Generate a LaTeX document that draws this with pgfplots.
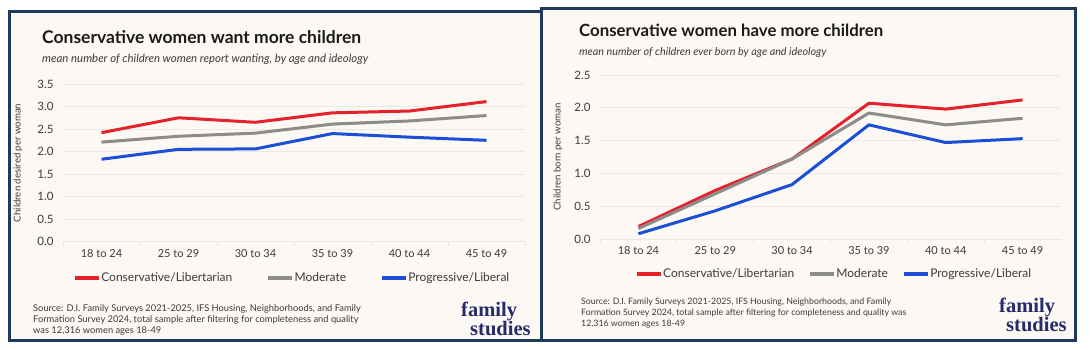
\documentclass[border=0pt]{standalone}
\usepackage{fontspec}
\setmainfont{Lato}
\newfontfamily\logofont{Liberation Serif}
\usepackage{pgfplots}
\pgfplotsset{compat=1.18}
\definecolor{cream}{HTML}{FCF8F3}
\definecolor{navy}{HTML}{1E3A5B}
\definecolor{cred}{HTML}{E3222B}
\definecolor{cgray}{HTML}{8C8C8C}
\definecolor{cblue}{HTML}{1D4ED6}
\definecolor{gridc}{HTML}{ECE7E0}
\definecolor{txt}{HTML}{3C3C3C}
\definecolor{titlec}{HTML}{1A1A1A}
\definecolor{logoc}{HTML}{262B6C}
\pgfplotsset{
  fsstyle/.style={
    scale only axis,
    xmin=-0.5, xmax=5.5, ymin=0,
    axis line style={draw=none},
    ymajorgrids, grid style={gridc, line width=0.8pt},
    xtick={0,...,5},
    xticklabels={18 to 24, 25 to 29, 30 to 34, 35 to 39, 40 to 44, 45 to 49},
    minor xtick={-0.5,0.5,...,5.5},
    xtick pos=bottom, ytick pos=left,
    major tick length=0pt, minor tick length=4pt,
    tick align=outside,
    minor tick style={gridc, line width=0.8pt},
    /pgf/number format/assume math mode=true,
    yticklabel={\pgfmathprintnumber[fixed, fixed zerofill, precision=1]{\tick}},
    yticklabel style={font=\fontsize{11.5}{13}\selectfont, text=txt, xshift=-6pt},
    xticklabel style={font=\fontsize{11}{13}\selectfont, text=txt, yshift=-4pt},
    ylabel style={font=\fontsize{9.6}{11}\selectfont, text=txt, rotate=0, anchor=center},
    legend columns=3,
    legend style={draw=none, fill=none, font=\fontsize{12}{14}\selectfont, text=txt,
      anchor=west, nodes={inner sep=1pt}},
    legend image code/.code={\draw[#1, line width=3.2pt] (0pt,0pt) -- (24pt,0pt);},
    every axis plot/.append style={line width=3pt, no markers, line join=round},
  }
}
\begin{document}
\begin{tikzpicture}[x=1pt, y=1pt]
\fill[white] (0,0) rectangle (1092,350);
% panels
\draw[navy, line width=3pt, fill=cream] (9,9) rectangle (541,338);
\draw[navy, line width=3pt, fill=cream] (541,9) rectangle (1075,341);

% ---------- left chart ----------
\node[anchor=base west, inner sep=0, font=\bfseries\fontsize{17.5}{20}\selectfont, text=titlec] at (42,306) {Conservative women want more children};
\node[anchor=base west, inner sep=0, font=\itshape\fontsize{11.4}{13}\selectfont, text=txt] at (42,287) {mean number of children women report wanting, by age and ideology};
\begin{axis}[fsstyle, at={(63pt,108.3pt)}, anchor=south west,
  width=462pt, height=157.7pt, ymax=3.5, ytick={0,0.5,...,3.5},
  ylabel={Children desired per woman},
  ylabel style={at={(axis description cs:-0.0974,0.5)}},
  legend style={at={(axis description cs:0.015,-0.23)}, /tikz/every even column/.append style={column sep=33pt}}]
\addplot[cred] coordinates {(0,2.42) (1,2.75) (2,2.65) (3,2.86) (4,2.90) (5,3.11)};
\addlegendentry{Conservative/Libertarian}
\addplot[cgray] coordinates {(0,2.21) (1,2.34) (2,2.41) (3,2.61) (4,2.68) (5,2.80)};
\addlegendentry{Moderate}
\addplot[cblue] coordinates {(0,1.83) (1,2.05) (2,2.06) (3,2.40) (4,2.32) (5,2.25)};
\addlegendentry{Progressive/Liberal}
\end{axis}
\node[anchor=north west, inner sep=0, align=left, font=\fontsize{9.3}{11}\selectfont, text=txt] at (33,46)
 {Source: D.I. Family Surveys 2021-2025, IFS Housing, Neighborhoods, and Family\\
  Formation Survey 2024, total sample after filtering for completeness and quality\\
  was 12,316 women ages 18-49};
\node[anchor=base west, inner sep=0, align=left, font=\logofont\bfseries\fontsize{20.5}{16}\selectfont, text=logoc] at (461,14) {family\\\hspace*{9pt}studies};

% ---------- right chart ----------
\node[anchor=base west, inner sep=0, font=\bfseries\fontsize{16.8}{19}\selectfont, text=titlec] at (579,313) {Conservative women have more children};
\node[anchor=base west, inner sep=0, font=\itshape\fontsize{10.8}{13}\selectfont, text=txt] at (579,294) {mean number of children ever born by age and ideology};
\begin{axis}[fsstyle, at={(600pt,111pt)}, anchor=south west,
  width=461pt, height=164pt, ymax=2.5, ytick={0,0.5,...,2.5},
  ylabel={Children born per woman},
  ylabel style={at={(axis description cs:-0.0911,0.5)}},
  legend style={at={(axis description cs:0.069,-0.213)}, /tikz/every even column/.append style={column sep=13pt}}]
\addplot[cred] coordinates {(0,0.19) (1,0.74) (2,1.22) (3,2.07) (4,1.98) (5,2.12)};
\addlegendentry{Conservative/Libertarian}
\addplot[cgray] coordinates {(0,0.16) (1,0.69) (2,1.22) (3,1.92) (4,1.74) (5,1.84)};
\addlegendentry{Moderate}
\addplot[cblue] coordinates {(0,0.08) (1,0.43) (2,0.83) (3,1.74) (4,1.47) (5,1.53)};
\addlegendentry{Progressive/Liberal}
\end{axis}
\node[anchor=north west, inner sep=0, align=left, font=\fontsize{8.8}{11}\selectfont, text=txt] at (581,52)
 {Source: D.I. Family Surveys 2021-2025, IFS Housing, Neighborhoods, and Family\\
  Formation Survey 2024, total sample after filtering for completeness and quality was\\
  12,316 women ages 18-49};
\node[anchor=base west, inner sep=0, align=left, font=\logofont\bfseries\fontsize{20.5}{16}\selectfont, text=logoc] at (999,18) {family\\\hspace*{7pt}studies};
\end{tikzpicture}
\end{document}
